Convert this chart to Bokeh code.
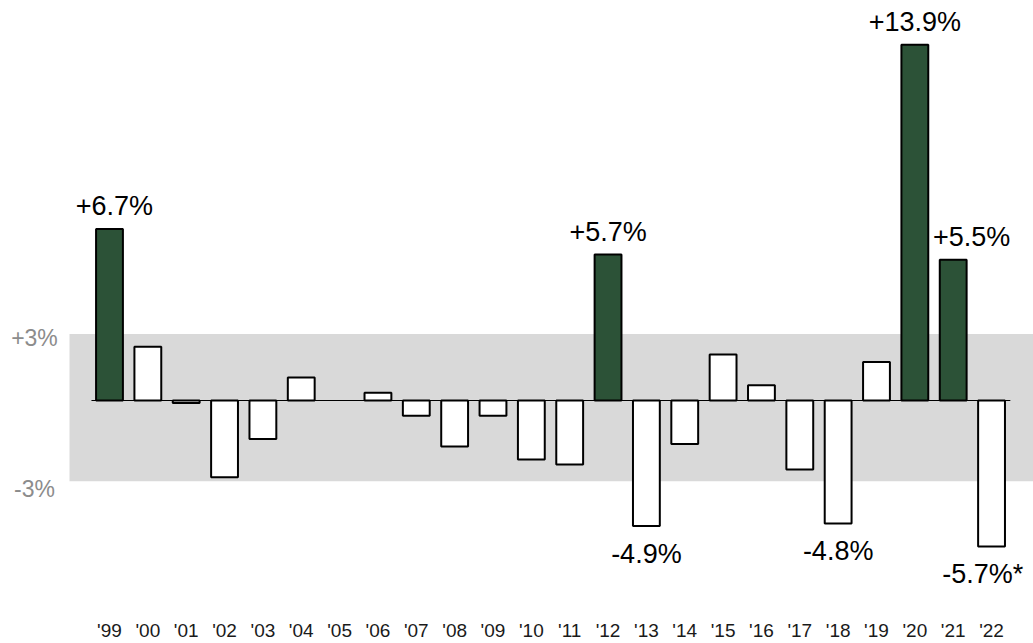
from bokeh.plotting import figure
from bokeh.models import ColumnDataSource, BoxAnnotation
from bokeh.core.properties import value
from bokeh.embed import file_html
from bokeh.resources import INLINE

years = ["'99", "'00", "'01", "'02", "'03", "'04", "'05", "'06", "'07", "'08", "'09", "'10",
         "'11", "'12", "'13", "'14", "'15", "'16", "'17", "'18", "'19", "'20", "'21", "'22"]
changes = [6.7, 2.1, -0.1, -3.0, -1.5, 0.9, 0.0, 0.3, -0.6, -1.8, -0.6, -2.3,
           -2.5, 5.7, -4.9, -1.7, 1.8, 0.6, -2.7, -4.8, 1.5, 13.9, 5.5, -5.7]
callout_years = ["'99", "'12", "'13", "'18", "'20", "'21", "'22"]
callout_texts = ["+6.7%", "+5.7%", "-4.9%", "-4.8%", "+13.9%", "+5.5%", "-5.7%*"]
band_low, band_high = -3.15, 2.6
band_labels = ["+3%", "-3%"]

GREEN = "#2c5237"
FONT = "Liberation Sans"

xs = list(range(len(years)))
colors = [GREEN if v >= 5 else "white" for v in changes]
bottoms = [min(0, v) for v in changes]
tops = [max(0, v) for v in changes]

p = figure(width=1033, height=643, x_range=(-2.842, 24.094), y_range=(-9.492, 15.625),
           output_backend="svg", toolbar_location=None, min_border=0)
p.axis.visible = False
p.grid.visible = False
p.outline_line_color = None
p.background_fill_color = "white"

p.add_layout(BoxAnnotation(left=-1.043, bottom=band_low, top=band_high,
                           fill_color="#d9d9d9", fill_alpha=1.0, line_color=None, level="underlay"))

p.segment(x0=[-0.47], y0=[0], x1=[23.49], y1=[0], line_color="black", line_width=1)

nz = [i for i, v in enumerate(changes) if v != 0]
nonzero = ColumnDataSource(dict(x=[xs[i] for i in nz],
                                bottom=[bottoms[i] for i in nz],
                                top=[tops[i] for i in nz],
                                color=[colors[i] for i in nz]))
p.vbar(x="x", bottom="bottom", top="top", width=0.70, source=nonzero,
       fill_color="color", line_color="black", line_width=2)

# tick labels
p.text(x=xs, y=[-8.98] * len(xs), text=years, text_align="center", text_baseline="middle",
       text_font=value(FONT), text_font_size="19px", text_color="#1a1a1a")

# band labels
p.text(x=[-1.956, -1.956], y=[2.46, -3.44], text=band_labels, text_align="center",
       text_baseline="middle", text_font=value(FONT), text_font_size="23px", text_color="#8c8c8c")

# callouts
x_shift = {"'99": 0.13, "'21": 0.48, "'22": -0.23}
cx, cy, yoff = [], [], []
for yr in callout_years:
    i = years.index(yr)
    v = changes[i]
    cx.append(i + x_shift.get(yr, 0.0))
    cy.append(v)
    yoff.append(-23 if v > 0 else 28)
p.text(x=cx, y=cy, text=callout_texts, y_offset=yoff, text_align="center",
       text_baseline="middle", text_font=value(FONT), text_font_size="27px", text_color="black")

open("out.html", "w").write(file_html(p, INLINE))
